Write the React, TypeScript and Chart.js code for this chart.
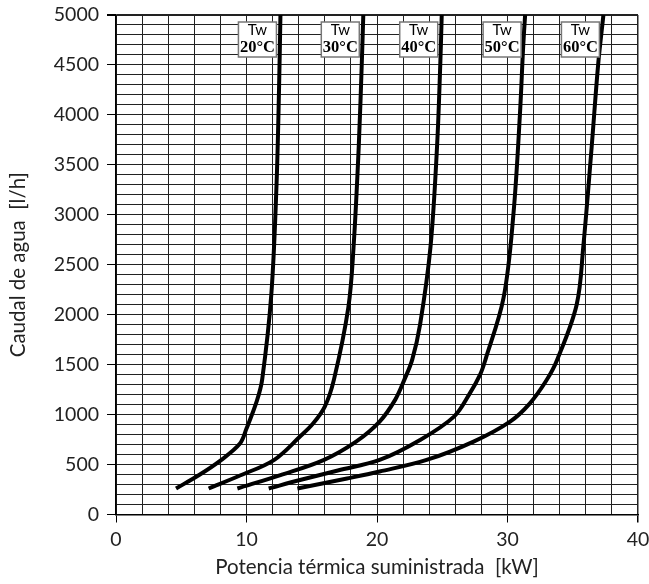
import React, { useEffect, useRef } from 'react';
import { Chart, registerables } from 'chart.js';

Chart.register(...registerables);

// Water temperature for each curve
const temps = ['20°C', '30°C', '40°C', '50°C', '60°C'];

// Potencia térmica suministrada [kW] (x) and Caudal de agua [l/h] (y)
const power20 = [4.6, 6.3, 8.0, 9.5, 10.0, 10.8, 11.2, 11.9, 12.3, 12.5, 12.6];
const flow20 = [260, 390, 540, 710, 860, 1140, 1350, 2200, 3300, 4300, 5000];

const power30 = [7.1, 9.5, 12.1, 14.1, 15.1, 16.0, 16.7, 17.8, 18.2, 18.6, 18.85, 18.95];
const flow30 = [260, 390, 545, 780, 910, 1080, 1350, 2070, 2670, 3680, 4580, 5000];

const power40 = [9.3, 12.6, 15.9, 18.4, 20.2, 21.4, 22.1, 22.7, 23.3, 24.1, 24.6, 24.85, 24.96];
const flow40 = [260, 395, 545, 730, 930, 1150, 1350, 1550, 1900, 2680, 3680, 4510, 5000];

const power50 = [11.7, 14.1, 17.0, 20.2, 23.3, 25.9, 27.1, 27.9, 28.3, 29.7, 30.45, 30.95, 31.2, 31.35];
const flow50 = [260, 345, 440, 546, 746, 980, 1210, 1400, 1546, 2170, 3000, 4000, 4680, 5000];

const power60 = [13.9, 17.7, 20.2, 23.8, 27.4, 30.2, 31.7, 33.0, 33.8, 35.3, 35.8, 36.45, 36.95, 37.35];
const flow60 = [260, 360, 430, 546, 730, 930, 1110, 1346, 1546, 2100, 2670, 3680, 4510, 5000];

const powers = [power20, power30, power40, power50, power60];
const flows = [flow20, flow30, flow40, flow50, flow60];

// Axis ranges / tick steps
const xMin = 0, xMax = 40, xGridStep = 2, xLabelStep = 10;
const yMin = 0, yMax = 5000, yGridStep = 100, yLabelStep = 500;

const xTitle = 'Potencia térmica suministrada  [kW]';
const yTitle = 'Caudal de agua  [l/h]';
const tempHeader = 'Tw';

const FONT = 'Lato, "Open Sans", sans-serif';

const tempBoxes = {
  id: 'tempBoxes',
  afterDatasetsDraw(chart: any) {
    const ctx = chart.ctx;
    chart.data.datasets.forEach((ds: any, i: number) => {
      const meta = chart.getDatasetMeta(i);
      const last = meta.data[meta.data.length - 1];
      const w = 38, h = 35;
      const right = last.x - 4;
      const left = right - w;
      const top = chart.chartArea.top + 7;
      ctx.save();
      ctx.fillStyle = '#fff';
      ctx.fillRect(left, top, w, h);
      ctx.strokeStyle = '#777';
      ctx.lineWidth = 1.5;
      ctx.strokeRect(left, top, w, h);
      ctx.fillStyle = '#000';
      ctx.textAlign = 'center';
      ctx.textBaseline = 'middle';
      ctx.font = '15px ' + FONT;
      ctx.fillText(tempHeader, left + w / 2, top + 8);
      ctx.font = 'bold 16.5px "Liberation Serif", serif';
      ctx.fillText(ds.label, left + w / 2, top + 25.5, w - 2);
      ctx.restore();
    });
  },
};

export default function App() {
  const ref = useRef<HTMLCanvasElement>(null);

  useEffect(() => {
    if (!ref.current) return;
    const datasets = temps.map((t, i) => ({
      label: t,
      data: powers[i].map((p, j) => ({ x: p, y: flows[i][j] })),
      borderColor: '#000',
      backgroundColor: '#000',
      borderWidth: 4,
      pointRadius: 0,
      tension: 0.35,
      fill: false,
      clip: false as any,
    }));

    const chart = new Chart(ref.current, {
      type: 'line',
      data: { datasets },
      plugins: [tempBoxes],
      options: {
        animation: false,
        responsive: false,
        layout: { padding: { top: 15, right: 11, left: 0, bottom: 0 } },
        plugins: { legend: { display: false }, tooltip: { enabled: false } },
        scales: {
          x: {
            type: 'linear',
            min: xMin,
            max: xMax,
            afterFit: (s: any) => {
              s.height = 69.5;
              s.paddingLeft = 0;
              s.paddingRight = 0;
            },
            border: { color: '#000', width: 1.5 },
            grid: {
              color: '#222',
              lineWidth: (c: any) => (c.tick && c.tick.value === xMax ? 1.5 : 1),
              tickLength: 8,
              tickColor: (c: any) => (c.tick && c.tick.value % xLabelStep === 0 ? '#000' : 'rgba(0,0,0,0)'),
            },
            ticks: {
              stepSize: xGridStep,
              autoSkip: false,
              maxRotation: 0,
              padding: 6,
              color: '#222',
              font: { family: FONT, size: 19.5 },
              callback: (v: any) => (Number(v) % xLabelStep === 0 ? String(v) : ''),
            },
            title: {
              display: true,
              text: xTitle,
              color: '#222',
              font: { family: FONT, size: 20.5 },
              padding: { top: 0, bottom: 4 },
            },
          },
          y: {
            type: 'linear',
            min: yMin,
            max: yMax,
            afterFit: (s: any) => {
              s.width = 116;
              s.paddingTop = 0;
              s.paddingBottom = 0;
            },
            border: { color: '#000', width: 1.5 },
            grid: {
              color: '#222',
              lineWidth: (c: any) => (c.tick && c.tick.value === yMax ? 2 : 1),
              tickLength: 9,
              tickColor: (c: any) => (c.tick && c.tick.value % yLabelStep === 0 ? '#000' : 'rgba(0,0,0,0)'),
            },
            ticks: {
              stepSize: yGridStep,
              autoSkip: false,
              padding: 8,
              color: '#222',
              font: { family: FONT, size: 19.5 },
              callback: (v: any) => (Number(v) % yLabelStep === 0 ? String(v) : ''),
            },
            title: {
              display: true,
              text: yTitle,
              color: '#222',
              font: { family: FONT, size: 20.5 },
              padding: { top: 6, bottom: 0 },
            },
          },
        },
      },
    });
    return () => chart.destroy();
  }, []);

  return (
    <canvas
      ref={ref}
      width={649}
      height={584}
      style={{ position: 'absolute', left: 0, top: 0, width: 649, height: 584, display: 'block' }}
    />
  );
}
